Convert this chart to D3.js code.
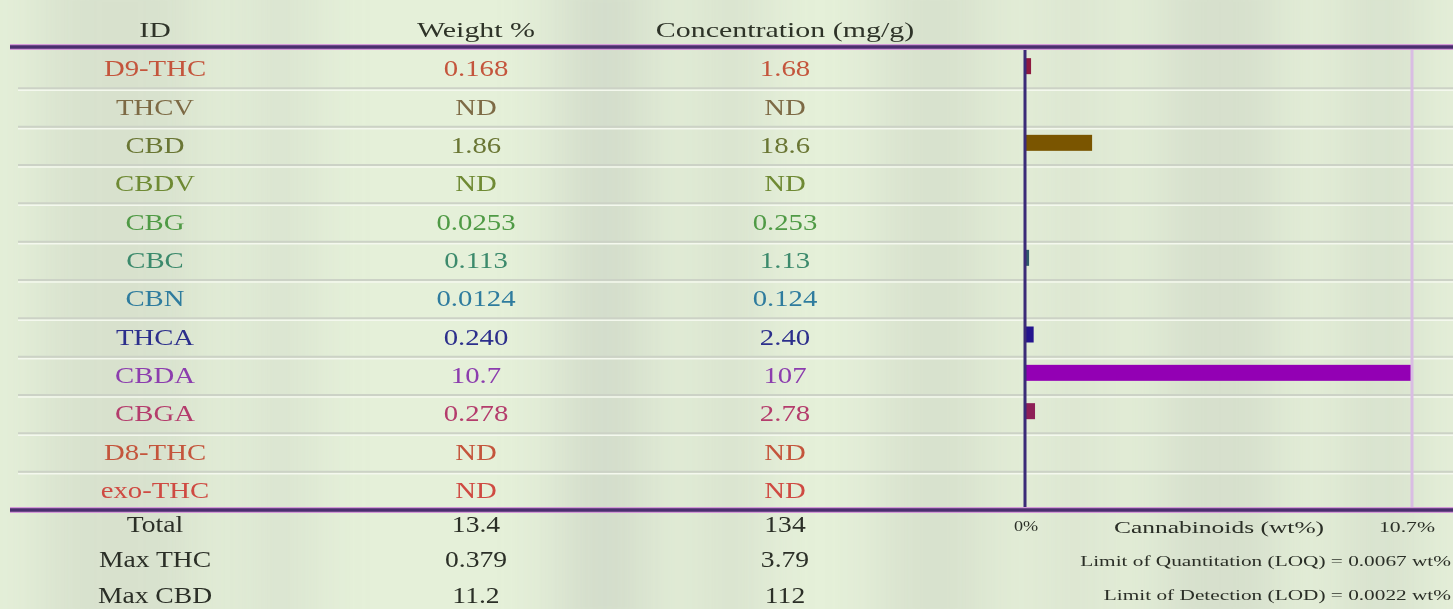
<!DOCTYPE html>
<html>
<head>
<meta charset="utf-8">
<script src="https://cdn.jsdelivr.net/npm/d3@7"></script>
<style>
  body { margin: 0; overflow: hidden; }
  text { font-family: "Liberation Serif", "DejaVu Serif", serif; }
</style>
</head>
<body>
<script>
const width = 1453;
const height = 609;

// data
const ids = ['D9-THC', 'THCV', 'CBD', 'CBDV', 'CBG', 'CBC', 'CBN', 'THCA', 'CBDA', 'CBGA', 'D8-THC', 'exo-THC'];
const weightPct = [0.168, null, 1.86, null, 0.0253, 0.113, 0.0124, 0.240, 10.7, 0.278, null, null];
const weightLabels = ['0.168', 'ND', '1.86', 'ND', '0.0253', '0.113', '0.0124', '0.240', '10.7', '0.278', 'ND', 'ND'];
const concLabels = ['1.68', 'ND', '18.6', 'ND', '0.253', '1.13', '0.124', '2.40', '107', '2.78', 'ND', 'ND'];
const textColors = ['#c4553c', '#7d6a45', '#6a7634', '#6f8a34', '#4f9a45', '#3c8a6c', '#2f7c9e', '#2c2f8c', '#8c3dae', '#b43c6c', '#c4553c', '#cf4a42'];
const barColors = ['#8e1a40', '#7d6a45', '#7a5500', '#6f8a34', '#4f9a45', '#2f5a6a', '#2f7c9e', '#24148e', '#9300b4', '#8e2058', '#c4553c', '#cf4a42'];

const summaryNames = ['Total', 'Max THC', 'Max CBD'];
const summaryWeight = ['13.4', '0.379', '11.2'];
const summaryConc = ['134', '3.79', '112'];

const headers = ['ID', 'Weight %', 'Concentration (mg/g)'];
const maxScale = 10.7;
const notes = ['Limit of Quantitation (LOQ) = 0.0067 wt%', 'Limit of Detection (LOD) = 0.0022 wt%'];

const svg = d3.select('body')
    .append('svg')
    .attr('width', width)
    .attr('height', height);

// blurry leafy background
const defs = svg.append('defs');
defs.append('filter').attr('id', 'blur')
    .attr('x', '-50%').attr('width', '200%')
  .append('feGaussianBlur').attr('stdDeviation', 28);

svg.append('rect')
    .attr('width', width).attr('height', height)
    .attr('fill', '#e5f0d9');

const streaks = [
  [40, 160, 0.3], [250, 60, 0.25], [560, 90, 0.4], [700, 60, 0.3], [880, 110, 0.3],
  [1040, 70, 0.2], [1160, 120, 0.35], [1340, 80, 0.3]
];
svg.append('g').attr('filter', 'url(#blur)')
  .selectAll('rect')
  .data(streaks)
  .enter()
  .append('rect')
    .attr('x', d => d[0]).attr('y', -60)
    .attr('width', d => d[1]).attr('height', height + 120)
    .attr('fill', '#b9bfb4')
    .attr('opacity', d => d[2]);

const colX = [155, 476, 785];
const topRule = 47, bottomRule = 510;

const y = d3.scaleBand()
    .domain(ids)
    .range([topRule + 3, bottomRule]);

const x = d3.scaleLinear()
    .domain([0, maxScale])
    .range([1025, 1411]);

// the report text is stretched sideways
const put = (sel, px, py, s) => sel.attr('transform', `translate(${px},${py}) scale(${s},1)`);

// row separators
svg.append('g')
  .selectAll('line')
  .data(ids.slice(1))
  .enter()
  .append('line')
    .attr('x1', 18).attr('x2', width)
    .attr('y1', d => y(d)).attr('y2', d => y(d))
    .attr('stroke', '#ccd2c6')
    .attr('stroke-width', 2);

svg.append('g')
  .selectAll('line')
  .data(ids.slice(1))
  .enter()
  .append('line')
    .attr('x1', 18).attr('x2', width)
    .attr('y1', d => y(d) + 2).attr('y2', d => y(d) + 2)
    .attr('stroke', '#f4f8ee')
    .attr('stroke-width', 1.5);

// headers
svg.append('g')
  .selectAll('text')
  .data(headers)
  .enter()
  .append('text')
    .attr('text-anchor', 'middle')
    .attr('font-size', 22)
    .attr('fill', '#2e3328')
    .text(d => d)
    .each(function(d, i) { put(d3.select(this), colX[i], 37, 1.36); });

// table rows
const rows = svg.append('g')
  .selectAll('g')
  .data(ids)
  .enter()
  .append('g')
    .attr('transform', d => `translate(0, ${y(d) + y.bandwidth() / 2 + 7})`);

const cells = [d => d, (d, i) => weightLabels[i], (d, i) => concLabels[i]];
cells.forEach((fn, c) => {
  rows.append('text')
      .attr('text-anchor', 'middle')
      .attr('font-size', 23)
      .attr('fill', (d, i) => textColors[i])
      .text(fn)
      .call(put, colX[c], 0, 1.25);
});

// bars
svg.append('g')
  .selectAll('rect')
  .data(ids.map((d, i) => ({ id: d, v: weightPct[i], c: barColors[i] })).filter(d => d.v !== null))
  .enter()
  .append('rect')
    .attr('x', x(0))
    .attr('y', d => y(d.id) + y.bandwidth() / 2 - 11)
    .attr('width', d => Math.max(x(d.v) - x(0), 0.5))
    .attr('height', 16)
    .attr('fill', d => d.c);

// right reference line (max)
svg.append('line')
    .attr('x1', x(maxScale) + 1).attr('x2', x(maxScale) + 1)
    .attr('y1', topRule + 2).attr('y2', bottomRule)
    .attr('stroke', '#d9bde3')
    .attr('stroke-width', 3);

// axis line
svg.append('line')
    .attr('x1', x(0)).attr('x2', x(0))
    .attr('y1', topRule).attr('y2', bottomRule + 2)
    .attr('stroke', '#3b2b78')
    .attr('stroke-width', 3);

// thick horizontal rules
[topRule, bottomRule].forEach(yy => {
  svg.append('line')
      .attr('x1', 10).attr('x2', width)
      .attr('y1', yy).attr('y2', yy)
      .attr('stroke', '#d49ad8')
      .attr('stroke-width', 6);
  svg.append('line')
      .attr('x1', 10).attr('x2', width)
      .attr('y1', yy).attr('y2', yy)
      .attr('stroke', '#4a2e6e')
      .attr('stroke-width', 3.5);
});

// summary rows
const sumY = [532, 567, 603];
const sum = svg.append('g')
  .selectAll('g')
  .data(summaryNames)
  .enter()
  .append('g')
    .attr('transform', (d, i) => `translate(0, ${sumY[i]})`);

const sumCells = [d => d, (d, i) => summaryWeight[i], (d, i) => summaryConc[i]];
sumCells.forEach((fn, c) => {
  sum.append('text')
      .attr('text-anchor', 'middle')
      .attr('font-size', 23)
      .attr('fill', '#2b2f27')
      .text(fn)
      .call(put, colX[c], 0, 1.2);
});

// chart axis labels
svg.append('text')
    .attr('text-anchor', 'middle')
    .attr('font-size', 14).attr('fill', '#2b2f27')
    .text('0%')
    .call(put, x(0) + 1, 531, 1.3);
svg.append('text')
    .attr('text-anchor', 'middle')
    .attr('font-size', 17).attr('fill', '#2b2f27')
    .text('Cannabinoids (wt%)')
    .call(put, 1219, 533, 1.5);
svg.append('text')
    .attr('text-anchor', 'middle')
    .attr('font-size', 15).attr('fill', '#2b2f27')
    .text(maxScale + '%')
    .call(put, 1407, 532, 1.45);

svg.append('g')
  .selectAll('text')
  .data(notes)
  .enter()
  .append('text')
    .attr('text-anchor', 'end')
    .attr('font-size', 15)
    .attr('fill', '#2b2f27')
    .text(d => d)
    .each(function(d, i) { put(d3.select(this), 1451, 566 + i * 34, 1.42); });
</script>
</body>
</html>
